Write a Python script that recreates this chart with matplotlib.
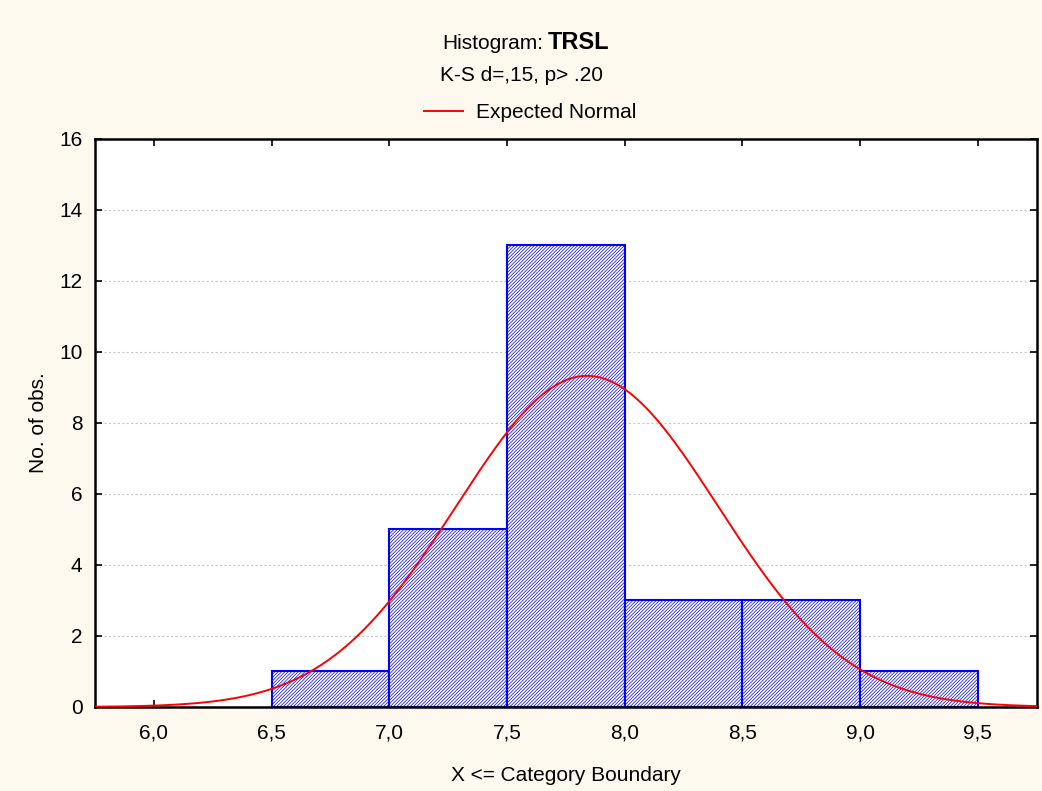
import numpy as np
import matplotlib
matplotlib.use("Agg")
import matplotlib.pyplot as plt

# histogram bins (left edges) and counts
bin_edges = [6.5, 7.0, 7.5, 8.0, 8.5, 9.0, 9.5]
counts = [1, 5, 13, 3, 3, 1]
# fitted normal parameters
mu = 7.84
sigma = 0.556
xticks = [6.0, 6.5, 7.0, 7.5, 8.0, 8.5, 9.0, 9.5]
yticks = [0, 2, 4, 6, 8, 10, 12, 14, 16]

plt.rcParams["font.family"] = ["Liberation Sans", "DejaVu Sans"]
plt.rcParams["hatch.linewidth"] = 0.5

fig = plt.figure(figsize=(10.42, 7.91), dpi=100, facecolor="#fdf9ef")
ax = fig.add_axes([0.0912, 0.1062, 0.9038, 0.7181])
ax.set_facecolor("white")

widths = np.diff(bin_edges)
ax.bar(bin_edges[:-1], counts, width=widths, align="edge", color="white",
       edgecolor="#0000ff", hatch="//////////", linewidth=1.5, zorder=2)

n = sum(counts)
bw = widths[0]
xs = np.linspace(5.75, 9.75, 400)
ys = n * bw * np.exp(-0.5 * ((xs - mu) / sigma) ** 2) / (sigma * np.sqrt(2 * np.pi))
line, = ax.plot(xs, ys, color="red", lw=1.4, zorder=3, label="Expected Normal")

ax.set_xlim(5.75, 9.75)
ax.set_ylim(0, 16)
ax.set_xticks(xticks)
ax.set_xticklabels([f"{t:.1f}".replace(".", ",") for t in xticks])
ax.set_yticks(yticks)
ax.tick_params(direction="in", top=True, right=True, length=5, width=1.2,
               labelsize=15, pad=12)
ax.tick_params(axis="y", pad=9)
ax.yaxis.grid(True, linestyle=(0, (2, 2)), color="#c8c8c8", lw=0.8, zorder=0)
ax.set_axisbelow(True)
for s in ax.spines.values():
    s.set_linewidth(1.8)

ax.set_xlabel("X <= Category Boundary", fontsize=15, labelpad=17)
ax.set_ylabel("No. of obs.", fontsize=15, labelpad=8)

fig.text(543 / 1042, 0.938, "Histogram:", ha="right", va="baseline",
         fontsize=15)
fig.text(548 / 1042, 0.938, "TRSL", ha="left", va="baseline",
         fontsize=17, fontweight="bold")
fig.text(0.5, 0.897, "K-S d=,15, p> .20", ha="center", va="baseline",
         fontsize=15)
fig.legend(handles=[line], loc="center", bbox_to_anchor=(530 / 1042, 0.858),
           frameon=False, fontsize=15, handlelength=1.9, handletextpad=0.6)

fig.savefig("out.png", dpi=100, facecolor=fig.get_facecolor())
